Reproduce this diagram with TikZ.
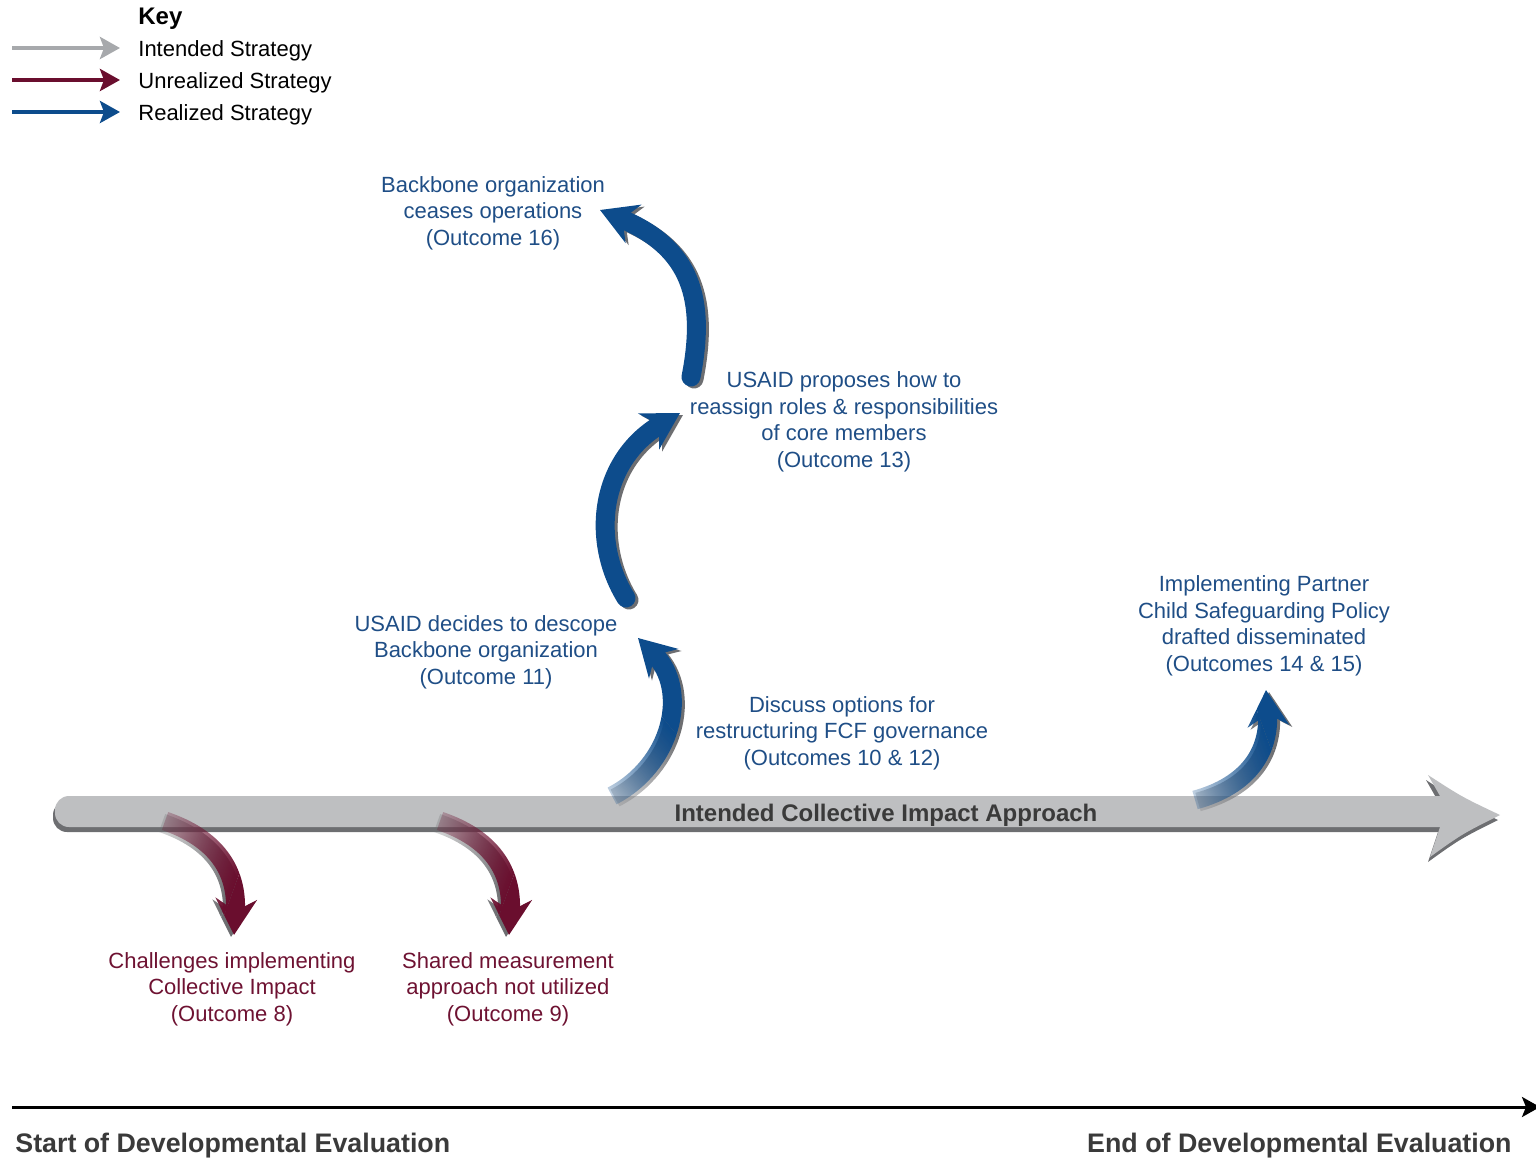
\documentclass[tikz,border=0pt]{standalone}
\usepackage{fontspec}
\setmainfont{Liberation Sans}
\usepackage{tikz}
\usetikzlibrary{positioning, arrows.meta, fadings}

\definecolor{flowblue}{RGB}{13,76,140}
\definecolor{textblue}{RGB}{31,78,134}
\definecolor{flowred}{RGB}{106,14,46}
\definecolor{textred}{RGB}{110,18,50}
\definecolor{barfill}{RGB}{190,191,193}
\definecolor{barshadow}{RGB}{109,110,113}
\definecolor{keygray}{RGB}{167,169,172}
\definecolor{darktext}{RGB}{58,58,58}

% 箭尾渐隐
\begin{tikzfadingfrompicture}[name=tailfade]
    \fill[transparent!100] (-200pt,-200pt) rectangle (200pt,200pt);
    \fill[transparent!0] (-200pt,30pt) rectangle (200pt,200pt);
    \shade[bottom color=transparent!100, top color=transparent!0] (-200pt,-30pt) rectangle (200pt,30pt);
\end{tikzfadingfrompicture}

\tikzset{
    bluetext/.style={
        align=center,
        text=textblue,
        inner sep=0,
        font=\fontsize{11pt}{13.3pt}\selectfont
    },
    redtext/.style={
        align=center,
        text=textred,
        inner sep=0,
        font=\fontsize{11pt}{13.3pt}\selectfont
    },
    keytext/.style={
        anchor=west,
        inner sep=0,
        font=\fontsize{11pt}{13.3pt}\selectfont
    },
    keytitle/.style={
        anchor=west,
        inner sep=0,
        font=\bfseries\fontsize{12pt}{14pt}\selectfont
    },
    boldtext/.style={
        inner sep=0,
        text=darktext,
        font=\bfseries\fontsize{13.4pt}{16pt}\selectfont
    },
    blueflow/.style={
        draw=flowblue,
        line width=9.5pt,
        -{Stealth[length=18pt, width=20.5pt, inset=6pt]}
    },
    redflow/.style={
        draw=flowred,
        line width=9.5pt,
        -{Stealth[length=18pt, width=20.5pt, inset=6pt]}
    },
    keyarrow/.style={
        line width=2pt,
        shorten >=9pt,
        -{Stealth[length=10pt, width=11pt, inset=2pt]}
    },
    shadowright/.style={draw=barshadow, transform canvas={shift={(1.5pt,-1pt)}}},
    shadowleft/.style={draw=barshadow, transform canvas={shift={(-1.5pt,-1pt)}}},
    fadetail/.style={path fading=tailfade, fit fading=false, fading transform={#1}}
}

\begin{document}
\begin{tikzpicture}[x=0.5pt, y=-0.5pt]
    \useasboundingbox (0,0) rectangle (1536,1160);

    % 图例
    \node[keytitle] (key) at (138,19) {Key};
    \foreach \kname/\col/\yy/\txt in {intended/keygray/51/Intended Strategy,
                                     unrealized/flowred/83/Unrealized Strategy,
                                     realized/flowblue/115/Realized Strategy} {
        \coordinate (\kname s) at (12,\yy-3);
        \node[keytext] (\kname) at (138,\yy) {\txt};
        \draw[keyarrow, draw=\col] (\kname s) -- (\kname s -| \kname.west);
    }

    % 预期战略主箭头
    \foreach \dx/\dy/\col in {-2/5/barshadow, 0/0/barfill} {
        \fill[\col, shift={(\dx,\dy)}, rounded corners=7pt]
            (1445,827) -- (55,827) -- (55,796) -- (1445,796);
        \fill[\col, shift={(\dx,\dy)}]
            (1440,796) -- (1428,775) .. controls (1462,797) .. (1500,815)
            .. controls (1462,834) .. (1430,857) -- (1440,827) -- cycle;
    }
    \node[boldtext, font=\bfseries\fontsize{12pt}{14pt}\selectfont] (approach) at (886,815) {Intended Collective Impact Approach};

    % 实现的战略
    \coordinate (a1s) at (612,796);
    \coordinate (a1e) at (638,638);
    \draw[blueflow, shadowright, fadetail={shift={(634,777)}, rotate=-50}]
        (a1s) .. controls (672,765) and (690,690) .. (a1e);
    \draw[blueflow, fadetail={shift={(634,777)}, rotate=-50}]
        (a1s) .. controls (672,765) and (690,690) .. (a1e);

    \coordinate (a2s) at (626,598);
    \coordinate (a2e) at (680,413);
    \draw[blueflow, line cap=round, shadowright] (a2s) .. controls (590,540) and (600,460) .. (a2e);
    \draw[blueflow, line cap=round] (a2s) .. controls (590,540) and (600,460) .. (a2e);

    \coordinate (a3s) at (691,377);
    \coordinate (a3e) at (600,210);
    \draw[blueflow, line cap=round, shadowright] (a3s) .. controls (706,300) and (692,248) .. (a3e);
    \draw[blueflow, line cap=round] (a3s) .. controls (706,300) and (692,248) .. (a3e);

    \coordinate (a4s) at (1195,800);
    \coordinate (a4e) at (1266,690);
    \draw[blueflow, shadowright, fadetail={shift={(1222,790)}, rotate=-70}]
        (a4s) .. controls (1250,785) and (1270,750) .. (a4e);
    \draw[blueflow, fadetail={shift={(1222,790)}, rotate=-70}]
        (a4s) .. controls (1250,785) and (1270,750) .. (a4e);

    % 未实现的战略
    \coordinate (m1s) at (165,821);
    \coordinate (m1e) at (234,935);
    \draw[redflow, shadowleft, fadetail={shift={(191,831)}, rotate=-110}]
        (m1s) .. controls (215,838) and (238,870) .. (m1e);
    \draw[redflow, fadetail={shift={(191,831)}, rotate=-110}]
        (m1s) .. controls (215,838) and (238,870) .. (m1e);

    \coordinate (m2s) at (440,821);
    \coordinate (m2e) at (509,935);
    \draw[redflow, shadowleft, fadetail={shift={(466,831)}, rotate=-110}]
        (m2s) .. controls (490,838) and (513,870) .. (m2e);
    \draw[redflow, fadetail={shift={(466,831)}, rotate=-110}]
        (m2s) .. controls (490,838) and (513,870) .. (m2e);

    % 结果
    \node[bluetext] (out16) at (493,213) {Backbone organization\\ceases operations\\(Outcome 16)};
    \node[bluetext] (out13) at (844,422) {USAID proposes how to\\reassign roles \& responsibilities\\of core members\\(Outcome 13)};
    \node[bluetext] (out11) at (486,652) {USAID decides to descope\\Backbone organization\\(Outcome 11)};
    \node[bluetext] (out1012) at (842,733) {Discuss options for\\restructuring FCF governance\\(Outcomes 10 \& 12)};
    \node[bluetext] (out1415) at (1264,626) {Implementing Partner\\Child Safeguarding Policy\\drafted disseminated\\(Outcomes 14 \& 15)};
    \node[redtext] (out8) at (232,989) {Challenges implementing\\Collective Impact\\(Outcome 8)};
    \node[redtext] (out9) at (508,989) {Shared measurement\\approach not utilized\\(Outcome 9)};

    % 时间轴
    \coordinate (tstart) at (12,1107);
    \coordinate (tend) at (1540,1107);
    \draw[line width=1.5pt, -{Stealth[length=9pt, width=10pt, inset=2pt]}] (tstart) -- (tend);
    \node[boldtext, anchor=west] (start) at (15,1146) {Start of Developmental Evaluation};
    \node[boldtext, anchor=east] (finish) at (1512,1146) {End of Developmental Evaluation};
\end{tikzpicture}
\end{document}
